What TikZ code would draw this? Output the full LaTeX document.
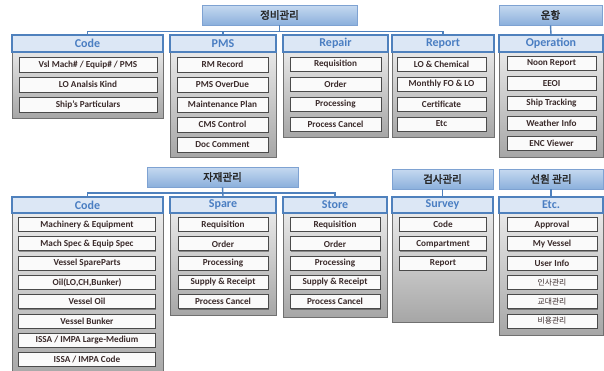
\documentclass[tikz,border=0pt]{standalone}
\usepackage{fontspec}
\setmainfont{Carlito}
\newfontfamily\kr[AutoFakeBold=2.5]{Noto Sans CJK KR}
\usetikzlibrary{shadows}
\definecolor{hdrtop}{HTML}{C6D9F0}
\definecolor{hdrbot}{HTML}{8BB0DC}
\definecolor{hdrline}{HTML}{7EA2D2}
\definecolor{catfill}{HTML}{DCE7F5}
\definecolor{catline}{HTML}{4F81BD}
\definecolor{cattext}{HTML}{4A7EC2}
\definecolor{pantop}{HTML}{EDEDED}
\definecolor{panbot}{HTML}{A6A6A6}
\definecolor{panline}{HTML}{707070}
\definecolor{itemline}{HTML}{4A4A4A}
\definecolor{itemtext}{HTML}{3A2A2A}
\tikzset{
  hdr/.style={draw=hdrline, line width=0.8pt, top color=hdrtop, bottom color=hdrbot, inner sep=0pt,
    font=\kr\bfseries\fontsize{10.5}{10.5}\selectfont, text=black!85},
  cat/.style={draw=catline, line width=1.3pt, fill=catfill, text=cattext, inner sep=0pt,
    font=\bfseries\fontsize{12}{12}\selectfont},
  panel/.style={draw=panline, line width=1pt, top color=pantop, bottom color=panbot, inner sep=0pt,
    drop shadow={shadow xshift=1pt, shadow yshift=-1pt, fill=black, opacity=0.25}},
  item/.style={draw=itemline, line width=1pt, fill=white!96!gray, text=itemtext, inner sep=0pt,
    font=\bfseries\fontsize{9.2}{9.2}\selectfont,
    drop shadow={shadow xshift=0.8pt, shadow yshift=-0.8pt, fill=black, opacity=0.35}},
  conn/.style={draw=catline, line width=1.4pt},
}
\begin{document}
\begin{tikzpicture}[x=1pt,y=-1pt]
\useasboundingbox (0,0) rectangle (604,370);
\fill[white] (0,0) rectangle (604,370);

% ===== headers =====
\node[hdr, minimum width=155pt, minimum height=20pt] (h1) at (279.5,15) {정비관리};
\node[hdr, minimum width=103pt, minimum height=20pt] (h2) at (550.5,15) {운항};
\node[hdr, minimum width=151pt, minimum height=20pt] (h3) at (222.5,177) {자재관리};
\node[hdr, minimum width=101pt, minimum height=20pt] (h4) at (442.5,179) {검사관리};
\node[hdr, minimum width=104pt, minimum height=20pt] (h5) at (551,179) {선원 관리};

% ===== top panels =====
\node[panel, minimum width=151pt, minimum height=74pt] (pc1) at (87.5,81) {};
\node[panel, minimum width=106pt, minimum height=113pt] (pp) at (223,100.5) {};
\node[panel, minimum width=105pt, minimum height=93pt] (pr) at (335.5,90.5) {};
\node[panel, minimum width=102pt, minimum height=93pt] (prp) at (443,90.5) {};
\node[panel, minimum width=104pt, minimum height=113pt] (po) at (551,100.5) {};

% ===== top category boxes =====
\node[cat, minimum width=151pt, minimum height=17pt] (code1) at (87.5,43.5) {Code};
\node[cat, minimum width=106pt, minimum height=17pt] (pms) at (223,43.5) {PMS};
\node[cat, minimum width=105pt, minimum height=17pt] (repair) at (335.5,43.5) {Repair};
\node[cat, minimum width=102pt, minimum height=17pt] (report) at (443,43.5) {Report};
\node[cat, minimum width=104pt, minimum height=17pt] (oper) at (551,43.5) {Operation};

% ===== top items =====
\foreach \t [count=\i] in {Vsl Mach\# / Equip\# / PMS, LO Analsis Kind, Ship's Particulars}
  \node[item, minimum width=138pt, minimum height=15pt] (code1-\i) at (88,{64.5+20*(\i-1)}) {\t};
\foreach \t [count=\i] in {RM Record, PMS OverDue, Maintenance Plan, CMS Control, Doc Comment}
  \node[item, minimum width=91pt, minimum height=15pt] (pms-\i) at (222.5,{64.5+20*(\i-1)}) {\t};
\foreach \t [count=\i] in {Requisition, Order, Processing, Process Cancel}
  \node[item, minimum width=91pt, minimum height=14pt] (repair-\i) at (335.5,{64+20*(\i-1)}) {\t};
\foreach \t [count=\i] in {LO \& Chemical, Monthly FO \& LO, Certificate, Etc}
  \node[item, minimum width=89pt, minimum height=14pt] (report-\i) at (441.5,{64+20*(\i-1)}) {\t};
\foreach \t [count=\i] in {Noon Report, EEOI, Ship Tracking, Weather Info, ENC Viewer}
  \node[item, minimum width=89pt, minimum height=14pt] (oper-\i) at (551.5,{63.5+19.9*(\i-1)}) {\t};

% ===== bottom panels =====
\node[panel, minimum width=151pt, minimum height=175pt] (pc2) at (87.5,292.5) {};
\node[panel, minimum width=106pt, minimum height=110pt] (ps) at (223,260) {};
\node[panel, minimum width=104pt, minimum height=112pt] (pst) at (335,261) {};
\node[panel, minimum width=101pt, minimum height=117pt] (psv) at (442.5,263.5) {};
\node[panel, minimum width=104pt, minimum height=130pt] (pe) at (551,270) {};

% ===== bottom category boxes =====
\node[cat, minimum width=151pt, minimum height=16pt] (code2) at (87.5,205) {Code};
\node[cat, minimum width=106pt, minimum height=16pt] (spare) at (223,205) {Spare};
\node[cat, minimum width=104pt, minimum height=16pt] (store) at (335,205) {Store};
\node[cat, minimum width=101pt, minimum height=16pt] (survey) at (442.5,205) {Survey};
\node[cat, minimum width=104pt, minimum height=16pt] (etc) at (551,205) {Etc.};

% ===== bottom items =====
\foreach \t [count=\i] in {Machinery \& Equipment, Mach Spec \& Equip Spec, Vessel SpareParts, {Oil(LO,CH,Bunker)}, Vessel Oil, Vessel Bunker, ISSA / IMPA Large-Medium, ISSA / IMPA Code}
  \node[item, minimum width=137pt, minimum height=14pt] (code2-\i) at (87,{224.5+19.3*(\i-1)}) {\t};
\foreach \t [count=\i] in {Requisition, Order, Processing, Supply \& Receipt, Process Cancel}
  \node[item, minimum width=90pt, minimum height=14pt] (spare-\i) at (223,{224.5+19.3*(\i-1)}) {\t};
\foreach \t [count=\i] in {Requisition, Order, Processing, Supply \& Receipt, Process Cancel}
  \node[item, minimum width=90pt, minimum height=14pt] (store-\i) at (335,{224.5+19.3*(\i-1)}) {\t};
\foreach \t [count=\i] in {Code, Compartment, Report}
  \node[item, minimum width=87pt, minimum height=14pt] (survey-\i) at (443,{224.5+19.3*(\i-1)}) {\t};
\foreach \t [count=\i] in {Approval, My Vessel, User Info}
  \node[item, minimum width=90pt, minimum height=14pt] (etc-\i) at (552,{224.5+19.3*(\i-1)}) {\t};
\foreach \t [count=\i from 4] in {인사관리, 교대관리, 비용관리}
  \node[item, minimum width=90pt, minimum height=14pt, font=\kr\fontsize{7.8}{7.8}\selectfont] (etc-\i) at (552,{224.5+19.3*(\i-1)}) {\t};

% ===== connectors =====
\coordinate (bus1) at (0,31.5);
\coordinate (bus2) at (0,193);
\draw[conn] (code1.north) -- (code1.north |- bus1) -| (report.north);
\draw[conn] (pms.north) -- (pms.north |- bus1);
\draw[conn] (h1.south) -- (h1.south |- bus1);
\draw[conn] (h2.south) -- (oper.north);
\draw[conn] (code2.north) -- (code2.north |- bus2) -| (store.north);
\draw[conn] (h3.south) -- (spare.north);
\draw[conn] (h4.south) -- (survey.north);
\draw[conn] (h5.south) -- (etc.north);
\end{tikzpicture}
\end{document}
